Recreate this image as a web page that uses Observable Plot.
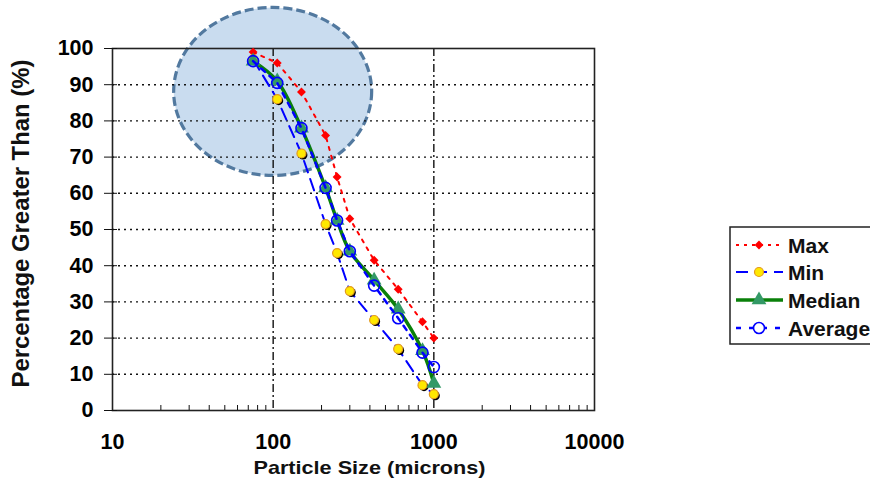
<!DOCTYPE html>
<html><head><meta charset="utf-8">
<script src="https://cdn.jsdelivr.net/npm/d3@7"></script>
<script src="https://cdn.jsdelivr.net/npm/@observablehq/plot@0.6"></script>
<style>
html,body{margin:0;padding:0;background:#fff;}
#wrap{position:relative;width:870px;height:485px;overflow:hidden;font-family:"Liberation Sans",Arial,sans-serif;}
#legend{position:absolute;left:0;top:0;}
</style></head><body><div id="wrap"></div>
<script>
// ---- data ----
const sizes   = [75, 106, 150, 212, 250, 300, 425, 600, 850, 1000];
const maxV    = [99, 96, 88, 76, 64.5, 53, 41.5, 33.5, 24.5, 20];
const minV    = [97, 86, 71, 51.5, 43.5, 33, 25, 17, 7, 4.5];
const medianV = [96.5, 91, 78, 61.5, 52.5, 44, 36, 28, 16.5, 7.5];
const avgV    = [96.5, 90.5, 78, 61.5, 52.5, 44, 34.5, 25.5, 16, 12];
const seriesNames = ["Max", "Min", "Median", "Average"];
const xTickValues = [10, 100, 1000, 10000];
const xMinorTicks = [20,30,40,50,60,70,80,90,200,300,400,500,600,700,800,900,2000,3000,4000,5000,6000,7000,8000,9000];
const xGridValues = [100, 1000];
const yTickValues = [0, 10, 20, 30, 40, 50, 60, 70, 80, 90, 100];
const yGridValues = [10, 20, 30, 40, 50, 60, 70, 80, 90];
const ellipseCenter = [100, 88]; // highlighted region (data units)
const xTitle = "Particle Size (microns)";
const yTitle = "Percentage Greater Than (%)";

const rows = vals => sizes.map((s, i) => ({size: s, value: vals[i]}));
const maxRows = rows(maxV), minRows = rows(minV), medRows = rows(medianV), avgRows = rows(avgV);

const FONT = '"Liberation Sans", Arial, sans-serif';

const ellipseMark = (index, scales) => {
  const cx = scales.x(ellipseCenter[0]), cy = scales.y(ellipseCenter[1]);
  return d3.create("svg:ellipse")
    .attr("cx", cx).attr("cy", cy).attr("rx", 99).attr("ry", 84)
    .attr("fill", "#c9dcef").attr("stroke", "#52799f")
    .attr("stroke-width", 3.2).attr("stroke-dasharray", "9,4").node();
};

const chart = Plot.plot({
  width: 870, height: 485,
  marginLeft: 112, marginRight: 276, marginTop: 48, marginBottom: 75,
  style: {fontFamily: FONT, background: "white", overflow: "visible"},
  x: {type: "log", domain: [10, 10000]},
  y: {domain: [0, 100]},
  marks: [
    ellipseMark,
    Plot.ruleY(yGridValues, {stroke: "#111", strokeWidth: 1.4, strokeDasharray: "2,4"}),
    Plot.ruleX(xGridValues, {stroke: "#111", strokeWidth: 1.4, strokeDasharray: "8,3,2,3"}),
    Plot.frame({stroke: "#222", strokeWidth: 1.6}),
    Plot.axisY({ticks: yTickValues, tickSize: 8, tickPadding: 11, fontSize: 21.5, fontWeight: "bold", label: null, stroke: "#111"}),
    Plot.tickY(yTickValues, {y: d => d, insetRight: 477, stroke: "#111"}),
    Plot.axisX({ticks: xTickValues, tickSize: 0, tickPadding: 23, fontSize: 21.5, fontWeight: "bold", label: null, tickFormat: d3.format("d")}),
    Plot.tickX(xMinorTicks, {x: d => d, insetTop: 357, stroke: "#111"}),
    // Max
    Plot.line(maxRows, {x: "size", y: "value", stroke: "#ff0000", strokeWidth: 2, strokeDasharray: "3,6"}),
    Plot.dot(maxRows, {x: "size", y: "value", symbol: "diamond2", r: 4, fill: "#ff0000"}),
    // Min
    Plot.line(minRows, {x: "size", y: "value", stroke: "#0000ff", strokeWidth: 2, strokeDasharray: "12,7"}),
    Plot.dot(minRows, {x: "size", y: "value", r: 4.5, fill: "black", dx: 1.5, dy: 1.5}),
    Plot.dot(minRows, {x: "size", y: "value", r: 4.5, fill: "#ffe800", stroke: "#e39a1e", strokeWidth: 1.2}),
    // Median
    Plot.line(medRows, {x: "size", y: "value", stroke: "#0a800a", strokeWidth: 3.5, curve: "catmull-rom"}),
    Plot.dot(medRows, {x: "size", y: "value", symbol: "triangle", r: 5.5, fill: "#339966"}),
    // Average
    Plot.line(avgRows, {x: "size", y: "value", stroke: "#0000ff", strokeWidth: 2.5, strokeDasharray: "5,6"}),
    Plot.dot(avgRows, {x: "size", y: "value", r: 5.5, fill: "none", stroke: "#0000ff", strokeWidth: 1.6}),
    // titles
    Plot.text([xTitle], {frameAnchor: "bottom", textAnchor: "middle", dx: 16, dy: 63, lineAnchor: "bottom", fontSize: 19, fontWeight: "bold", fill: "#111"}),
    Plot.text([yTitle], {frameAnchor: "left", textAnchor: "middle", dx: -84, dy: -6, rotate: -90, lineAnchor: "bottom", fontSize: 23, fontWeight: "bold", fill: "#111"})
  ]
});

d3.select(chart).selectAll("text").each(function() {
  if (this.textContent === xTitle) { this.setAttribute("textLength", 232); this.setAttribute("lengthAdjust", "spacingAndGlyphs"); }
  if (this.textContent === yTitle) { this.setAttribute("textLength", 328); this.setAttribute("lengthAdjust", "spacingAndGlyphs"); }
});

const wrap = document.getElementById("wrap");
wrap.appendChild(chart);

// ---- legend ----
const lg = d3.select(wrap).append("svg").attr("id", "legend").attr("width", 870).attr("height", 485)
  .style("font-family", FONT);
lg.append("rect").attr("x", 730).attr("y", 227).attr("width", 160).attr("height", 117)
  .attr("fill", "white").attr("stroke", "#222").attr("stroke-width", 1.5);
const ly = [245, 272, 300, 328];
const styles = [
  {stroke: "#ff0000", w: 2, dash: "3,5"},
  {stroke: "#0000ff", w: 2, dash: "12,7"},
  {stroke: "#0a800a", w: 3.5, dash: null},
  {stroke: "#0000ff", w: 2.5, dash: "5,8"}
];
seriesNames.forEach((name, i) => {
  const y = ly[i], s = styles[i];
  const l = lg.append("line").attr("x1", 736).attr("x2", 783).attr("y1", y).attr("y2", y)
    .attr("stroke", s.stroke).attr("stroke-width", s.w);
  if (s.dash) l.attr("stroke-dasharray", s.dash);
  const mx = 759;
  if (i === 0) lg.append("path").attr("d", d3.symbol(d3.symbolDiamond2, 50)()).attr("transform", `translate(${mx},${y})`).attr("fill", "#ff0000");
  if (i === 1) {
    lg.append("circle").attr("cx", mx).attr("cy", y).attr("r", 4.5).attr("fill", "#ffe800").attr("stroke", "#e39a1e").attr("stroke-width", 1.2);
  }
  if (i === 2) lg.append("path").attr("d", d3.symbol(d3.symbolTriangle, 95)()).attr("transform", `translate(${mx},${y})`).attr("fill", "#339966");
  if (i === 3) lg.append("circle").attr("cx", mx).attr("cy", y).attr("r", 5.5).attr("fill", "white").attr("stroke", "#0000ff").attr("stroke-width", 1.6);
  lg.append("text").attr("x", 788).attr("y", y).attr("dy", "0.36em").attr("font-size", 21).attr("font-weight", "bold")
    .attr("fill", "#111").text(name);
});
</script></body></html>
